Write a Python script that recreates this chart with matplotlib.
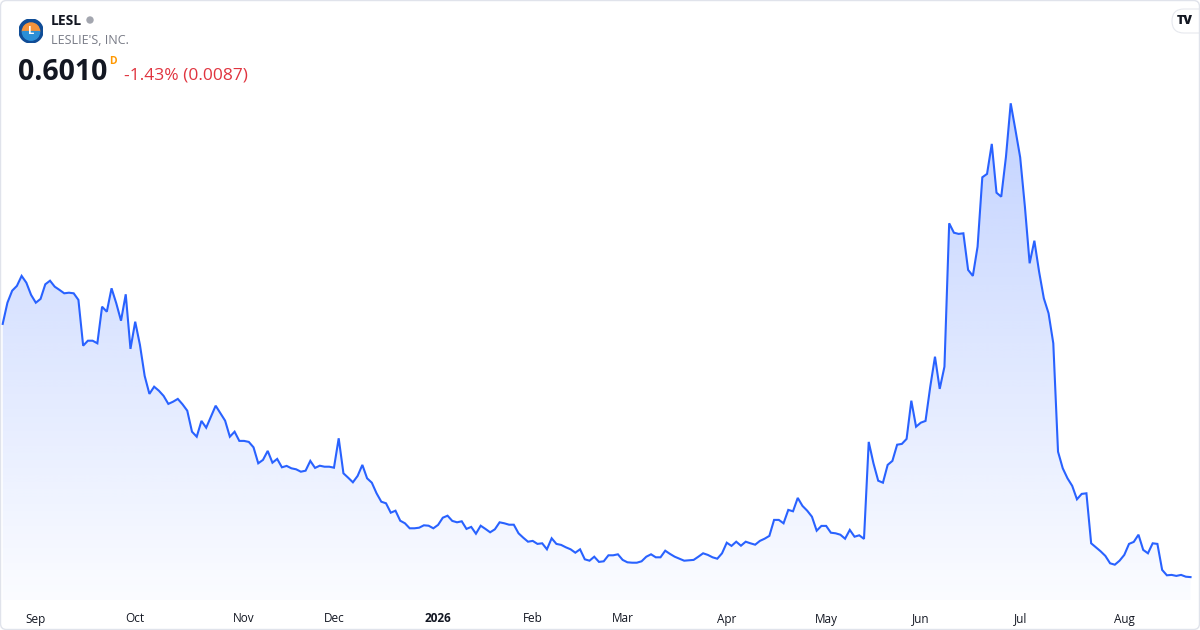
import numpy as np
import pandas as pd
import matplotlib
matplotlib.use('Agg')
import matplotlib.pyplot as plt
from matplotlib.patches import FancyBboxPatch, Circle, Wedge

# daily closes, LESL, Aug 21 2025 -> Aug 21 2026
prices = [
    1.867, 1.973, 2.033, 2.057, 2.107, 2.073, 2.012, 1.973, 1.992, 2.065,
    2.083, 2.053, 2.037, 2.020, 2.023, 2.020, 1.987, 1.758, 1.783, 1.783,
    1.770, 1.953, 1.928, 2.045, 1.970, 1.883, 2.015, 1.742, 1.878, 1.762,
    1.607, 1.517, 1.553, 1.533, 1.507, 1.467, 1.478, 1.492, 1.465, 1.433,
    1.328, 1.303, 1.382, 1.348, 1.403, 1.458, 1.420, 1.383, 1.303, 1.328,
    1.282, 1.282, 1.277, 1.250, 1.170, 1.187, 1.232, 1.173, 1.192, 1.150,
    1.157, 1.145, 1.140, 1.128, 1.133, 1.182, 1.147, 1.158, 1.153, 1.153,
    1.148, 1.295, 1.120, 1.098, 1.075, 1.107, 1.162, 1.095, 1.073, 1.020,
    0.978, 0.970, 0.923, 0.933, 0.883, 0.870, 0.845, 0.845, 0.848, 0.860,
    0.858, 0.845, 0.862, 0.898, 0.908, 0.882, 0.875, 0.880, 0.842, 0.852,
    0.818, 0.858, 0.842, 0.825, 0.840, 0.875, 0.870, 0.863, 0.863, 0.820,
    0.798, 0.778, 0.782, 0.767, 0.770, 0.740, 0.795, 0.767, 0.762, 0.750,
    0.740, 0.723, 0.740, 0.690, 0.683, 0.703, 0.677, 0.680, 0.710, 0.710,
    0.715, 0.687, 0.675,
    0.673, 0.673, 0.680, 0.703, 0.715, 0.700, 0.700, 0.733, 0.717, 0.703,
    0.693, 0.683, 0.685, 0.687, 0.703, 0.720, 0.712, 0.700, 0.693, 0.720,
    0.773, 0.757, 0.778, 0.758, 0.778, 0.770, 0.763, 0.782, 0.793, 0.807,
    0.887, 0.887, 0.870, 0.937, 0.930, 0.997, 0.957, 0.933, 0.903, 0.833,
    0.857, 0.857, 0.823, 0.820, 0.813, 0.793, 0.837, 0.803, 0.810, 0.792,
    1.277, 1.170, 1.083,
    1.073, 1.162, 1.182, 1.263, 1.267, 1.292, 1.483, 1.353, 1.373, 1.382,
    1.553, 1.703, 1.542, 1.653, 2.370, 2.323, 2.317, 2.320, 2.137, 2.107,
    2.253, 2.600, 2.617, 2.767, 2.523, 2.503, 2.703, 2.970, 2.837, 2.700,
    2.453, 2.170, 2.283, 2.128, 1.995, 1.920, 1.770, 1.228, 1.145, 1.095,
    1.057, 0.990, 1.017, 1.020, 0.770, 0.750, 0.730, 0.707, 0.670, 0.663,
    0.683, 0.712, 0.767, 0.777, 0.813, 0.737, 0.720, 0.770, 0.767, 0.637,
    0.610, 0.612, 0.607, 0.612, 0.603, 0.601,
]

holidays = ['2025-09-01', '2025-11-27', '2025-12-25', '2026-01-01', '2026-01-19',
            '2026-02-16', '2026-04-03', '2026-05-25', '2026-06-19', '2026-07-03']

ticker = 'LESL'
company = "LESLIE'S, INC."
last_price = '0.6010'
change_text = '-1.43% (0.0087)'

days = pd.bdate_range('2025-08-21', '2026-08-21')
days = days[~days.isin(pd.to_datetime(holidays))][:len(prices)]
idx = np.arange(len(prices))

tick_pos = [i for i in range(1, len(days)) if days[i].month != days[i - 1].month]
tick_lab = [str(days[i].year) if days[i].month == 1 else days[i].strftime('%b') for i in tick_pos]

plt.rcParams['font.family'] = ['Open Sans', 'DejaVu Sans']

W, H = 1200, 630
fig = plt.figure(figsize=(12, 6.3), dpi=100)
fig.patch.set_facecolor('white')

ax = fig.add_axes([0, 30 / H, 1, 600 / H])
ax.set_xlim(-0.57, 253.0)
ax.set_ylim(0.4865, 3.4865)
for s in ax.spines.values():
    s.set_visible(False)
ax.set_yticks([])
ax.set_xticks(tick_pos)
ax.set_xticklabels(tick_lab)
ax.tick_params(axis='x', length=0, pad=9, labelsize=8.5, labelcolor='#131722')
for t in ax.get_xticklabels():
    if t.get_text().isdigit():
        t.set_fontweight('bold')

# gradient under the line
line_col = '#2962FF'
ymin, ymax = ax.get_ylim()
grad = np.zeros((200, 2, 4))
grad[..., 0] = 41 / 255
grad[..., 1] = 98 / 255
grad[..., 2] = 1.0
grad[..., 3] = np.linspace(0.34, 0.02, 200)[:, None]
poly = ax.fill_between(idx, prices, ymin, color='none', lw=0)
img = ax.imshow(grad, extent=[ax.get_xlim()[0], ax.get_xlim()[1], ymin, ymax],
                aspect='auto', origin='upper', zorder=1)
img.set_clip_path(poly.get_paths()[0], transform=ax.transData)
ax.plot(idx, prices, color=line_col, lw=1.5, zorder=3, solid_joinstyle='miter')
ax.set_xlim(-0.57, 253.0)
ax.set_ylim(ymin, ymax)


def fx(x):
    return x / W


def fy(y):
    return 1 - y / H


# header
lax = fig.add_axes([fx(19), fy(43), 24 / W, 24 / H])
lax.set_xlim(-1, 1)
lax.set_ylim(-1, 1)
lax.axis('off')
lax.add_patch(Circle((0, 0), 1, color='#0f4c96'))
lax.add_patch(Wedge((0, -0.05), 0.72, 0, 180, color='#f5933b'))
lax.add_patch(Wedge((0, -0.05), 0.72, 180, 360, color='#2b8fd6'))
lax.text(0, -0.02, 'L', ha='center', va='center', color='white', fontsize=8, fontweight='bold')

fig.text(fx(51), fy(21), ticker, ha='left', va='center', fontsize=10, fontweight='bold', color='#131722')
fig.patches.append(Circle((90, H - 20), 3, transform=None, color='#a3a6af'))
fig.text(fx(51), fy(40), company, ha='left', va='center', fontsize=9, color='#787b86')
fig.text(fx(18), fy(72), last_price, ha='left', va='center', fontsize=20.5, fontweight='bold', color='#131722')
fig.text(fx(109), fy(62), 'D', ha='left', va='center', fontsize=7.5, fontweight='bold', color='#ff9800')
fig.text(fx(124), fy(75), change_text, ha='left', va='center', fontsize=12.5, color='#e0343f')

# watermark badge top right
fig.patches.append(FancyBboxPatch((1172, H - 33), 40, 24, boxstyle='round,pad=0,rounding_size=12',
                                  transform=None, facecolor='white', edgecolor='#e6e8ee', lw=0.8))
fig.text(fx(1185), fy(21), 'TV', ha='center', va='center', fontsize=9, fontweight='heavy', color='#131722')

# outer frame
fig.patches.append(FancyBboxPatch((0.5, 0.5), W - 1, H - 1, boxstyle='round,pad=0,rounding_size=6',
                                  transform=None, facecolor='none', edgecolor='#e0e3eb', lw=1))

fig.savefig('out.png', dpi=100)
